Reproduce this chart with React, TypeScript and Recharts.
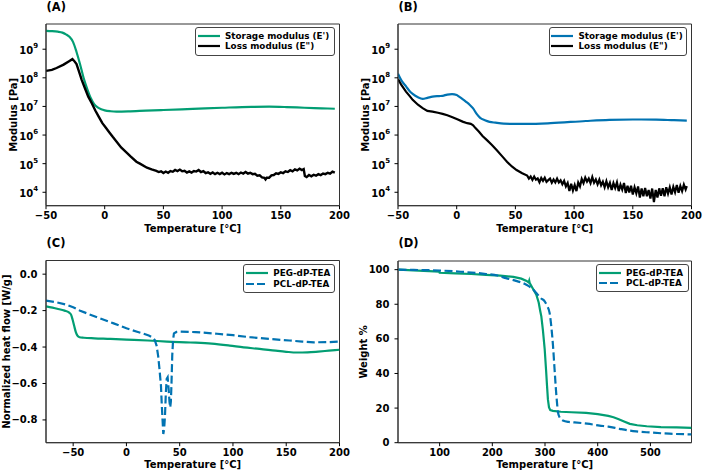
import React from 'react';
import { LineChart, Line, XAxis, YAxis, Legend, ReferenceArea } from 'recharts';

const FONT = '"DejaVu Sans", Verdana, sans-serif';
const GREEN = '#029E73';
const BLUE = '#0173B2';
const BLACK = '#000000';

// ---------- Panel A : DMA of PEG network ----------
const tStorageA = [-50, -45, -40, -36, -33, -30, -27, -24, -21, -18, -15, -12, -9, -6, -3, 0, 5, 10, 20, 35, 50, 75, 100, 125, 140, 155, 170, 185, 196];
const vStorageA = [4.4e9, 4.3e9, 4.1e9, 3.8e9, 3.3e9, 2.7e9, 1.8e9, 8.0e8, 3.0e8, 1.0e8, 4.2e7, 2.0e7, 1.2e7, 9.2e6, 8.0e6, 7.3e6, 6.8e6, 6.6e6, 6.7e6, 7.1e6, 7.5e6, 8.2e6, 9.0e6, 9.7e6, 9.8e6, 9.5e6, 9.0e6, 8.6e6, 8.3e6];

const tLossA = [-50, -45, -41, -35, -30, -27.5, -26, -24, -22, -19.6, -17, -14, -11, -8, -5, -2, 1, 4, 7, 10, 14, 18, 22, 27, 30, 36, 40,
  44, 46, 48, 50, 52, 54, 56, 58, 60, 62, 64, 66, 68, 70, 72, 74, 76, 78, 80, 82, 84, 86, 88, 90, 92, 94, 96, 98, 100, 102, 104, 106, 108, 110,
  112, 114, 116, 118, 120, 122, 124, 126, 128, 130, 132, 134, 136, 137, 138, 140, 142, 144, 146, 148, 150, 152, 154, 156, 158, 160, 162, 164,
  166, 168, 169.5, 170.5, 172, 174, 176, 178, 180, 182, 184, 186, 188, 190, 192, 194, 196];
const vLossA = [1.75e8, 1.9e8, 2.2e8, 2.9e8, 3.9e8, 4.5e8, 3.9e8, 3.0e8, 1.7e8, 8.5e7, 4.5e7, 2.2e7, 1.3e7, 7.2e6, 4.3e6, 2.6e6, 1.8e6, 1.23e6, 8.5e5, 6.0e5, 3.7e5, 2.6e5, 1.8e5, 1.17e5, 1.0e5, 7.2e4, 6.3e4,
  5.6e4, 5.1e4, 5.4e4, 4.7e4, 5.3e4, 4.8e4, 5.5e4, 5.2e4, 6.0e4, 5.5e4, 6.2e4, 5.4e4, 5.6e4, 4.9e4, 5.4e4, 4.9e4, 5.5e4, 5.3e4, 6.0e4, 5.1e4, 5.5e4, 4.7e4, 5.0e4, 4.4e4, 4.9e4, 4.3e4, 4.8e4, 4.3e4, 4.8e4, 4.2e4, 4.7e4, 4.3e4, 4.8e4, 4.4e4,
  4.8e4, 4.3e4, 4.9e4, 4.5e4, 5.1e4, 4.5e4, 4.8e4, 4.3e4, 4.4e4, 3.8e4, 3.9e4, 3.3e4, 3.2e4, 2.8e4, 3.2e4, 3.2e4, 3.9e4, 4.0e4, 4.6e4, 4.4e4, 5.0e4, 4.7e4, 5.4e4, 5.1e4, 5.9e4, 5.4e4, 6.3e4, 5.8e4,
  6.7e4, 6.0e4, 6.5e4, 3.7e4, 3.4e4, 4.0e4, 3.6e4, 4.1e4, 3.8e4, 4.3e4, 4.0e4, 4.5e4, 4.3e4, 4.8e4, 4.5e4, 5.3e4, 4.9e4];

// ---------- Panel B : DMA of PCL network ----------
const tStorageB = [-50, -47, -43, -40, -37.5, -33, -29, -25, -20.6, -15, -12, -8, -4, 0, 2, 5, 8, 11, 14, 17, 20, 24, 28, 33, 40, 50, 60, 80, 110, 130, 150, 170, 185, 196];
const vStorageB = [1.4e8, 8.0e7, 4.9e7, 3.4e7, 2.75e7, 2.1e7, 1.85e7, 2.0e7, 2.2e7, 2.3e7, 2.35e7, 2.6e7, 2.7e7, 2.5e7, 2.2e7, 1.8e7, 1.45e7, 1.15e7, 8.5e6, 5.5e6, 4.0e6, 3.3e6, 2.9e6, 2.7e6, 2.5e6, 2.45e6, 2.45e6, 2.6e6, 3.1e6, 3.4e6, 3.5e6, 3.45e6, 3.3e6, 3.2e6];

const tLossB = [-50, -47, -43.2, -40, -37.5, -33, -29, -25, -20.6, -16, -12, -8, -3.6, 1, 5, 9, 12, 14, 16, 19, 22, 26, 30, 34, 38.8, 43, 47, 51, 55.8,
  60, 61.5, 63, 64.5, 66, 67.5, 69, 70.5, 72, 73.5, 75, 76.5, 78, 79.5, 81, 82.5, 84, 85.5, 87, 88.5, 90, 91.5, 93, 94.5, 96, 97.5, 99, 100.5,
  102, 103.5, 105, 106.5, 108, 109.5, 111, 112.5, 114, 115.5, 117, 118.5, 120, 121.5, 123, 124.5, 126, 127.5, 129, 130.5, 132, 133.5, 135, 136.5,
  138, 139.5, 141, 142.5, 144, 145.5, 147, 148.5, 150, 151.5, 153, 154.5, 156, 157.5, 159, 160.5, 162, 163.5, 165, 166.5, 168, 169.5, 171, 172.5,
  174, 175.5, 177, 178.5, 180, 181.5, 183, 184.5, 186, 187.5, 189, 190.5, 192, 193.5, 195, 196];
const vLossB = [9.0e7, 5.5e7, 3.3e7, 2.3e7, 1.7e7, 1.15e7, 8.7e6, 7.0e6, 6.6e6, 6.0e6, 5.5e6, 4.9e6, 4.2e6, 3.5e6, 2.95e6, 2.6e6, 2.45e6, 2.2e6, 1.75e6, 1.3e6, 9.3e5, 6.5e5, 4.5e5, 3.0e5, 1.8e5, 1.15e5, 8.0e4, 6.0e4, 4.6e4,
  3.85e4, 3.0e4, 3.55e4, 2.7e4, 3.55e4, 2.75e4, 3.05e4, 2.25e4, 3.15e4, 2.5e4, 3.2e4, 2.3e4, 2.65e4, 3.0e4, 2.15e4, 2.8e4, 2.2e4, 3.0e4, 2.2e4, 2.6e4, 1.9e4, 2.5e4, 1.6e4, 2.1e4, 1.1e4, 2.0e4, 1.15e4, 1.8e4,
  1.1e4, 2.2e4, 1.6e4, 2.9e4, 2.1e4, 3.25e4, 2.35e4, 3.0e4, 2.1e4, 3.4e4, 2.15e4, 2.8e4, 1.9e4, 2.75e4, 1.75e4, 2.35e4, 1.5e4, 2.45e4, 1.5e4, 2.15e4, 1.2e4, 2.1e4, 1.4e4, 2.2e4,
  1.1e4, 1.85e4, 1.25e4, 2.1e4, 9.4e3, 1.7e4, 9.8e3, 1.7e4, 8.4e3, 1.5e4, 9.2e3, 1.6e4, 6.5e3, 1.35e4, 7.3e3, 1.4e4, 7.3e3, 1.2e4, 6.0e3, 1.35e4, 4.5e3, 1.2e4, 6.6e3, 1.37e4,
  7.5e3, 1.37e4, 7.3e3, 1.5e4, 9.0e3, 1.5e4, 8.4e3, 1.55e4, 1.0e4, 1.8e4, 9.6e3, 1.65e4, 1.1e4, 1.85e4, 1.25e4, 1.65e4];

// ---------- Panel C : DSC ----------
const tPegC = [-75.5, -65, -58, -54, -52, -50.5, -49, -47.5, -46, -44, -40, -30, -15, 0, 20, 38, 60, 80, 97, 110, 125, 140, 150, 160, 170, 180, 190, 200];
const vPegC = [-0.177, -0.19, -0.2, -0.21, -0.222, -0.25, -0.285, -0.318, -0.337, -0.346, -0.349, -0.352, -0.355, -0.359, -0.364, -0.37, -0.375, -0.381, -0.392, -0.402, -0.41, -0.42, -0.426, -0.43, -0.429, -0.425, -0.42, -0.415];
const tPclC = [-75.5, -65, -56, -50, -44, -35, -25, -12, 0, 10, 16, 21, 24, 26.5, 28.3, 29.8, 31, 32.4, 33.2, 33.9, 34.6, 35.4, 36.2, 37, 37.8, 38.7, 39.6, 40.4, 41.1, 41.7, 42.3, 43, 43.8, 44.6, 47, 50, 65, 85, 100, 116, 135, 153, 165, 176, 190, 200];
const vPclC = [-0.145, -0.155, -0.168, -0.182, -0.199, -0.22, -0.242, -0.27, -0.297, -0.316, -0.327, -0.337, -0.346, -0.36, -0.392, -0.45, -0.52, -0.611, -0.72, -0.8, -0.877, -0.85, -0.776, -0.65, -0.575, -0.566, -0.63, -0.7, -0.731, -0.7, -0.6, -0.447, -0.36, -0.325, -0.317, -0.315, -0.318, -0.327, -0.335, -0.346, -0.356, -0.364, -0.37, -0.374, -0.373, -0.37];

// ---------- Panel D : TGA ----------
const tPegD = [22, 50, 80, 99, 100, 130, 160, 188, 215, 240, 255, 265, 269, 270, 271, 276, 283.5, 288, 291, 293, 296, 299.4, 302, 303.8, 305.5, 307.6, 310, 315, 330, 350, 378, 400, 420, 430, 440, 450, 461, 475, 493, 520, 550, 578];
const vPegD = [100, 99.6, 99.1, 98.9, 98.2, 97.9, 97.5, 97.0, 96.5, 95.8, 94.8, 93.5, 92.6, 93.6, 92.2, 89.5, 85.5, 81, 76, 73, 65, 54, 42, 33, 25, 20.4, 18.8, 18.4, 17.9, 17.6, 17.2, 16.5, 15.5, 14.7, 13.6, 12.3, 10.9, 10.1, 9.5, 9.0, 8.8, 8.6];
const tPclD = [22, 60, 100, 140, 188, 210, 226, 245, 264.6, 275, 283.5, 292, 299.4, 304, 308.7, 312, 315.2, 318, 320.2, 322.5, 324.6, 328, 334, 345, 353, 380, 403.6, 420, 441.5, 460, 473, 500, 536, 578];
const vPclD = [100, 99.8, 99.5, 98.8, 97.5, 96.6, 95.1, 93.5, 91.3, 89.2, 86.5, 83.5, 81.7, 79, 75, 67, 55.9, 43, 32.9, 24, 17.6, 14.5, 12.8, 12.0, 11.8, 11.0, 9.9, 9.3, 8.0, 7.0, 6.5, 5.9, 5.2, 4.8];

// ---------- axes ----------
const xTicksDMA = [-50, 0, 50, 100, 150, 200];
const yTicksDMA = [1e4, 1e5, 1e6, 1e7, 1e8, 1e9];
const xTicksDSC = [-50, 0, 50, 100, 150, 200];
const yTicksDSC = [-0.8, -0.6, -0.4, -0.2, 0.0];
const xTicksTGA = [100, 200, 300, 400, 500];
const yTicksTGA = [0, 20, 40, 60, 80, 100];

const zip = (t: number[], v: number[]) => t.map((x, i) => ({ t: x, v: v[i] }));
const minus = (s: string) => s.replace('-', '\u2212');

type Series = { name: string; data: { t: number; v: number }[]; color: string; dash?: string; width?: number; linear?: boolean };
type Box = { L: number; R: number; T: number; B: number };
type PanelProps = {
  title: string; left: number; top: number; box: Box;
  series: Series[];
  xDomain: [number, number]; xTicks: number[];
  yDomain: [number, number]; yTicks: number[]; yLog?: boolean; yFmt?: (v: number) => string;
  yLabel: string; yLabelX: number;
  legend: { left: number; top: number; width: number; height: number };
};

const PW = 352, PH = 236;
const textStyle = { fontFamily: FONT, fontWeight: 700 as const, fill: '#000' };

const LogTick = (props: any) => {
  const { x, y, payload } = props;
  const exp = Math.round(Math.log10(payload.value));
  return (
    <text x={x} y={y + 1} textAnchor="end" dominantBaseline="central" style={{ ...textStyle, fontSize: 10 }}>
      <tspan>10</tspan>
      <tspan dy={-4} fontSize={7}>{exp}</tspan>
    </text>
  );
};

function Panel(p: PanelProps) {
  const { L, R, T, B } = p.box;
  const xTitle = () => (
    <text x={(L + R) / 2} y={228.5} textAnchor="middle" dominantBaseline="central" style={{ ...textStyle, fontSize: 10 }}>
      Temperature [°C]
    </text>
  );
  const cy = (T + B) / 2;
  const yTitle = () => (
    <text x={p.yLabelX} y={cy} textAnchor="middle" dominantBaseline="central" transform={`rotate(-90 ${p.yLabelX} ${cy})`} style={{ ...textStyle, fontSize: 10 }}>
      {p.yLabel}
    </text>
  );
  const legendContent = () => (
    <div style={{ boxSizing: 'border-box', width: '100%', height: '100%', border: '1px solid #444', borderRadius: 3, background: '#fff', padding: '3px 0 0 1.5px', fontFamily: FONT, fontWeight: 700, fontSize: 8.8, color: '#000' }}>
      {p.series.map((s) => (
        <div key={s.name} style={{ display: 'flex', alignItems: 'center', height: 10.3, whiteSpace: 'nowrap' }}>
          <svg width={22} height={6} style={{ flex: 'none' }}>
            <line x1={0} y1={3} x2={22} y2={3} stroke={s.color} strokeWidth={2.2} strokeDasharray={s.dash ? '8 3' : undefined} />
          </svg>
          <span style={{ marginLeft: 5.5, lineHeight: '10px' }}>{s.name}</span>
        </div>
      ))}
    </div>
  );
  return (
    <div style={{ position: 'absolute', left: p.left, top: p.top, width: PW, height: PH }}>
      <LineChart width={PW} height={PH} margin={{ top: T, right: PW - R, left: 0, bottom: 0 }}>
        <XAxis
          dataKey="t" type="number" domain={p.xDomain} ticks={p.xTicks} allowDataOverflow
          height={PH - B} tickSize={3.5} tickMargin={2.5}
          tick={{ ...textStyle, fontSize: 10 }} tickFormatter={(v: number) => minus(String(v))}
          axisLine={{ stroke: '#333' }} tickLine={{ stroke: '#000' }} label={xTitle}
        />
        {p.yLog ? (
          <YAxis
            type="number" scale="log" domain={p.yDomain} ticks={p.yTicks} allowDataOverflow
            width={L} tickSize={3.5} tickMargin={4.5} tick={<LogTick />}
            axisLine={{ stroke: '#333' }} tickLine={{ stroke: '#000' }} label={yTitle}
          />
        ) : (
          <YAxis
            type="number" domain={p.yDomain} ticks={p.yTicks} allowDataOverflow
            width={L} tickSize={3.5} tickMargin={5}
            tick={{ ...textStyle, fontSize: 10 }} tickFormatter={p.yFmt}
            axisLine={{ stroke: '#333' }} tickLine={{ stroke: '#000' }} label={yTitle}
          />
        )}
        <ReferenceArea x1={p.xDomain[0]} x2={p.xDomain[1]} y1={p.yDomain[0]} y2={p.yDomain[1]} fill="none" stroke="#333" strokeWidth={1} ifOverflow="visible" />
        {p.series.map((s) => (
          <Line
            key={s.name} data={s.data} dataKey="v" name={s.name}
            type={s.linear ? 'linear' : 'monotone'} stroke={s.color} strokeWidth={s.width ?? 2.2}
            strokeDasharray={s.dash} dot={false} activeDot={false} isAnimationActive={false}
          />
        ))}
        <Legend
          layout="vertical" align="center" verticalAlign="middle" content={legendContent}
          wrapperStyle={{ left: p.legend.left, top: p.legend.top, width: p.legend.width, height: p.legend.height }}
        />
      </LineChart>
      <div style={{ position: 'absolute', left: 46.5, top: 0, fontFamily: FONT, fontWeight: 700, fontSize: 11.5, lineHeight: '15px', color: '#000' }}>
        {p.title}
      </div>
    </div>
  );
}

const LOG_DOMAIN: [number, number] = [3396, 7.6e9];

export default function App() {
  return (
    <div style={{ position: 'absolute', left: 0, top: 0, width: 704, height: 472, background: '#fff' }}>
      <Panel
        title="(A)" left={0} top={0} box={{ L: 46, R: 339.5, T: 24, B: 205.7 }}
        series={[
          { name: "Storage modulus (E')", data: zip(tStorageA, vStorageA), color: GREEN },
          { name: 'Loss modulus (E")', data: zip(tLossA, vLossA), color: BLACK, linear: true, width: 2.4 },
        ]}
        xDomain={[-50, 200]} xTicks={xTicksDMA} yDomain={LOG_DOMAIN} yTicks={yTicksDMA} yLog
        yLabel="Modulus [Pa]" yLabelX={14}
        legend={{ left: 195, top: 27, width: 140, height: 28.5 }}
      />
      <Panel
        title="(B)" left={352} top={0} box={{ L: 46, R: 339.5, T: 24, B: 205.7 }}
        series={[
          { name: "Storage modulus (E')", data: zip(tStorageB, vStorageB), color: BLUE },
          { name: 'Loss modulus (E")', data: zip(tLossB, vLossB), color: BLACK, linear: true, width: 2.2 },
        ]}
        xDomain={[-50, 200]} xTicks={xTicksDMA} yDomain={LOG_DOMAIN} yTicks={yTicksDMA} yLog
        yLabel="Modulus [Pa]" yLabelX={14}
        legend={{ left: 196.5, top: 27, width: 138.5, height: 28.5 }}
      />
      <Panel
        title="(C)" left={0} top={236} box={{ L: 46, R: 339.5, T: 24.5, B: 206.7 }}
        series={[
          { name: 'PEG-dP-TEA', data: zip(tPegC, vPegC), color: GREEN },
          { name: 'PCL-dP-TEA', data: zip(tPclC, vPclC), color: BLUE, dash: '8 3.5', linear: true },
        ]}
        xDomain={[-75.5, 200]} xTicks={xTicksDSC} yDomain={[-0.925, 0.075]} yTicks={yTicksDSC}
        yFmt={(v: number) => minus(v.toFixed(1)).replace('\u22120.0', '0.0')}
        yLabel="Normalized heat flow [W/g]" yLabelX={7}
        legend={{ left: 243.3, top: 28.3, width: 91.7, height: 28.4 }}
      />
      <Panel
        title="(D)" left={352} top={236} box={{ L: 46, R: 339.5, T: 25, B: 206.7 }}
        series={[
          { name: 'PEG-dP-TEA', data: zip(tPegD, vPegD), color: GREEN, linear: true },
          { name: 'PCL-dP-TEA', data: zip(tPclD, vPclD), color: BLUE, dash: '8 3.5' },
        ]}
        xDomain={[21, 578]} xTicks={xTicksTGA} yDomain={[0, 105]} yTicks={yTicksTGA}
        yFmt={(v: number) => String(v)}
        yLabel="Weight %" yLabelX={12}
        legend={{ left: 244, top: 28, width: 93, height: 28.3 }}
      />
    </div>
  );
}
